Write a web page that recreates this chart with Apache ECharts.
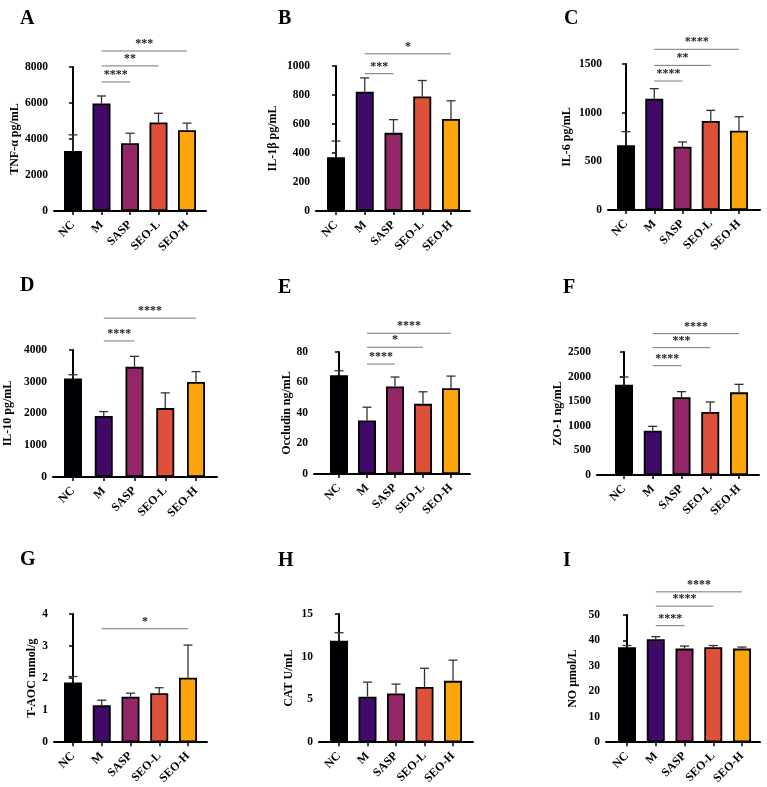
<!DOCTYPE html>
<html>
<head>
<meta charset="utf-8">
<script src="https://cdn.jsdelivr.net/npm/echarts@6/dist/echarts.min.js"></script>
<style>
html, body { margin: 0; padding: 0; background: #fff; }
#main { width: 767px; height: 787px; }
</style>
</head>
<body>
<div id="main"></div>
<script>
// groups and their fill colours
var groups = ['NC', 'M', 'SASP', 'SEO-L', 'SEO-H'];
var groupColors = ['#000004', '#420a68', '#932667', '#dd513a', '#fca50a'];

// means and SD (upper whisker only)
var tnfMean = [3340, 5970, 3770, 4920, 4490];
var tnfSd = [890, 420, 550, 510, 390];
var il1Mean = [370, 822, 539, 790, 635];
var il1Sd = [112, 96, 91, 110, 125];
var il6Mean = [664, 1144, 651, 914, 815];
var il6Sd = [141, 103, 48, 110, 144];
var il10Mean = [3100, 1920, 3470, 2170, 2990];
var il10Sd = [120, 140, 330, 480, 330];
var occMean = [64.7, 35.1, 57.4, 46.0, 56.3];
var occSd = [3.0, 8.7, 6.2, 7.9, 7.9];
var zoMean = [1836, 901, 1579, 1280, 1680];
var zoSd = [156, 88, 115, 204, 163];
var aocMean = [1.86, 1.15, 1.42, 1.53, 2.01];
var aocSd = [0.19, 0.16, 0.11, 0.17, 1.02];
var catMean = [11.86, 5.33, 5.71, 6.46, 7.18];
var catSd = [0.95, 1.70, 1.09, 2.19, 2.42];
var noMean = [37.3, 40.5, 36.8, 37.3, 36.8];
var noSd = [0.7, 1.0, 1.0, 0.7, 0.6];

// significance brackets: [from group, to group, bracket height (data units)]
var tnfSig = [[1, 2, 7170], [1, 3, 8060], [1, 4, 8890]];
var tnfStars = ['****', '**', '***'];
var il1Sig = [[1, 2, 947], [1, 4, 1084]];
var il1Stars = ['***', '*'];
var il6Sig = [[1, 2, 1325], [1, 3, 1486], [1, 4, 1651]];
var il6Stars = ['****', '**', '****'];
var il10Sig = [[1, 2, 4285], [1, 4, 5003]];
var il10Stars = ['****', '****'];
var occSig = [[1, 2, 72.1], [1, 3, 83.1], [1, 4, 92.3]];
var occStars = ['****', '*', '****'];
var zoSig = [[1, 2, 2222], [1, 3, 2588], [1, 4, 2873]];
var zoStars = ['****', '***', '****'];
var aocSig = [[1, 4, 3.54]];
var aocStars = ['*'];
var catSig = [];
var catStars = [];
var noSig = [[1, 2, 45.8], [1, 3, 53.5], [1, 4, 59.1]];
var noStars = ['****', '****', '****'];

var FONT = 'Liberation Serif';

// box: [axis left, axis right, first bar centre, last bar centre, top, bottom]
var panels = [
    { letter: 'A', name: 'TNF-α pg/mL', mean: tnfMean, sd: tnfSd, sig: tnfSig, stars: tnfStars, max: 8000, step: 2000, box: [54, 206, 73, 187, 67, 211], gap: 33, pos: [15, 4] },
    { letter: 'B', name: 'IL-1β pg/mL', mean: il1Mean, sd: il1Sd, sig: il1Sig, stars: il1Stars, max: 1000, step: 200, box: [316, 470, 336, 451, 66, 211], gap: 37, pos: [273, 4] },
    { letter: 'C', name: 'IL-6 pg/mL', mean: il6Mean, sd: il6Sd, sig: il6Sig, stars: il6Stars, max: 1500, step: 500, box: [608, 760, 626, 739, 64, 210], gap: 35, pos: [559, 4] },
    { letter: 'D', name: 'IL-10 pg/mL', mean: il10Mean, sd: il10Sd, sig: il10Sig, stars: il10Stars, max: 4000, step: 1000, box: [53, 217, 73, 196, 350, 477], gap: 39, pos: [15, 271] },
    { letter: 'E', name: 'Occludin ng/mL', mean: occMean, sd: occSd, sig: occSig, stars: occStars, max: 80, step: 20, box: [314, 470, 339, 451, 352, 474], gap: 19, pos: [273, 273] },
    { letter: 'F', name: 'ZO-1 ng/mL', mean: zoMean, sd: zoSd, sig: zoSig, stars: zoStars, max: 2500, step: 500, box: [597, 759, 624, 739, 352, 475], gap: 26, pos: [558, 273] },
    { letter: 'G', name: 'T-AOC mmol/g', mean: aocMean, sd: aocSd, sig: aocSig, stars: aocStars, max: 4, step: 1, box: [54, 207, 73, 188, 614, 747], gap: 16, pos: [15, 545] },
    { letter: 'H', name: 'CAT U/mL', mean: catMean, sd: catSd, sig: catSig, stars: catStars, max: 15, step: 5, box: [319, 473, 339, 453, 614, 747], gap: 24, pos: [273, 546] },
    { letter: 'I', name: 'NO μmol/L', mean: noMean, sd: noSd, sig: noSig, stars: noStars, max: 50, step: 10, box: [606, 760, 627, 742, 615, 744], gap: 27, pos: [558, 546] }
];

var chart = echarts.init(document.getElementById('main'));

var titles = [];
var grids = [];
var xAxes = [];
var yAxes = [];
var series = [];

panels.forEach(function (p, i) {
    var b = p.box;
    var spacing = (b[3] - b[2]) / 4;
    titles.push({
        text: p.letter,
        left: p.pos[0],
        top: p.pos[1],
        textStyle: { fontFamily: FONT, fontWeight: 'bold', fontSize: 20, color: '#000' }
    });
    grids.push({
        left: b[0],
        top: b[4],
        width: b[1] - b[0],
        height: b[5] - b[4]
    });
    xAxes.push({
        type: 'value',
        gridIndex: i,
        min: -(b[2] - b[0]) / spacing,
        max: 4 + (b[1] - b[3]) / spacing,
        splitLine: { show: false },
        axisLine: { show: true, onZero: false, lineStyle: { color: '#000', width: 2 } },
        axisTick: { show: true, customValues: [0, 1, 2, 3, 4], length: 4, lineStyle: { color: '#000', width: 1.5 } },
        axisLabel: {
            customValues: [0, 1, 2, 3, 4],
            formatter: function (v) { return groups[Math.round(v)]; },
            rotate: 45,
            margin: 12,
            color: '#000',
            fontFamily: FONT,
            fontWeight: 'bold',
            fontSize: 12
        }
    });
    yAxes.push({
        type: 'value',
        gridIndex: i,
        min: 0,
        max: p.max,
        interval: p.step,
        name: p.name,
        nameLocation: 'middle',
        nameGap: p.gap,
        nameTextStyle: { color: '#000', fontFamily: FONT, fontWeight: 'bold', fontSize: 12 },
        splitLine: { show: false },
        axisLine: { show: true, lineStyle: { color: '#000', width: 2 } },
        axisTick: { show: true, length: 4, lineStyle: { color: '#000', width: 1.5 } },
        axisLabel: {
            formatter: function (v) { return String(v); },
            color: '#000', fontFamily: FONT, fontWeight: 'bold', fontSize: 11.5, margin: 6
        }
    });

    series.push({
        type: 'bar',
        xAxisIndex: i,
        yAxisIndex: i,
        barWidth: 18,
        z: 3,
        data: p.mean.map(function (v, j) {
            return { value: [j, v], itemStyle: { color: groupColors[j] } };
        }),
        itemStyle: { borderColor: '#000', borderWidth: 1.8 }
    });

    series.push({
        type: 'custom',
        xAxisIndex: i,
        yAxisIndex: i,
        z: 2,
        data: p.mean.map(function (v, j) { return [j, v, v + p.sd[j]]; }),
        encode: { x: 0, y: [1, 2] },
        renderItem: function (params, api) {
            var bottom = api.coord([api.value(0), api.value(1)]);
            var top = api.coord([api.value(0), api.value(2)]);
            var st = { stroke: '#333', lineWidth: 1.3 };
            return {
                type: 'group',
                children: [
                    { type: 'line', shape: { x1: top[0], y1: bottom[1], x2: top[0], y2: top[1] }, style: st },
                    { type: 'line', shape: { x1: top[0] - 4.5, y1: top[1], x2: top[0] + 4.5, y2: top[1] }, style: st }
                ]
            };
        }
    });

    if (p.sig.length) {
        series.push({
            type: 'custom',
            xAxisIndex: i,
            yAxisIndex: i,
            clip: false,
            z: 4,
            data: p.sig,
            encode: { x: [0, 1], y: 2 },
            renderItem: function (params, api) {
                var a = api.coord([api.value(0), api.value(2)]);
                var c = api.coord([api.value(1), api.value(2)]);
                return {
                    type: 'group',
                    children: [
                        { type: 'line', shape: { x1: a[0], y1: a[1], x2: c[0], y2: c[1] }, style: { stroke: '#777', lineWidth: 1 } },
                        {
                            type: 'text',
                            style: {
                                text: p.stars[params.dataIndex],
                                x: (a[0] + c[0]) / 2,
                                y: a[1] - 1,
                                align: 'center',
                                verticalAlign: 'bottom',
                                fill: '#222',
                                font: 'bold 12px ' + FONT
                            }
                        }
                    ]
                };
            }
        });
    }
});

chart.setOption({
    backgroundColor: '#fff',
    animation: false,
    title: titles,
    grid: grids,
    xAxis: xAxes,
    yAxis: yAxes,
    series: series
});
</script>
</body>
</html>
